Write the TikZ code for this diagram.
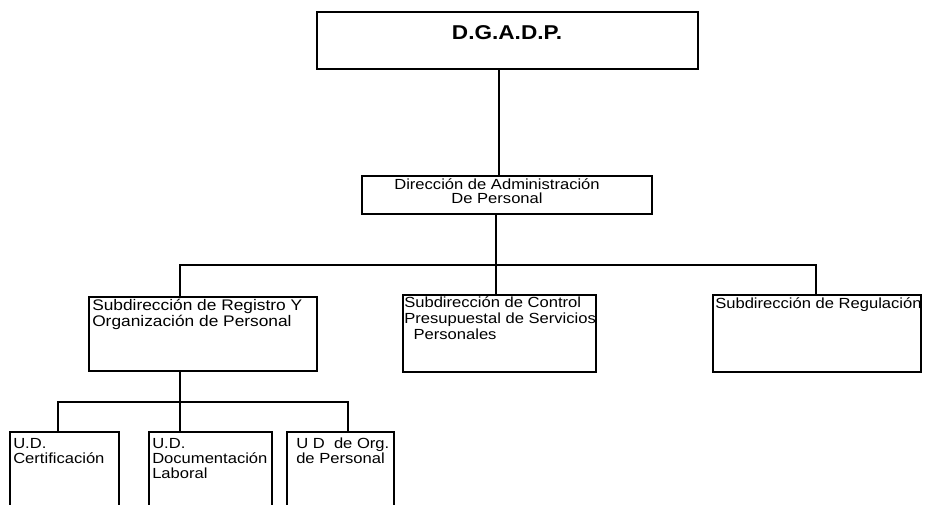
\documentclass[tikz,border=0pt]{standalone}
\usepackage{fontspec}
\setmainfont{Liberation Sans}[FakeStretch=1.13]
\usetikzlibrary{positioning}

\begin{document}
\begin{tikzpicture}[x=0.75pt, y=-0.75pt,
    box/.style={draw, line width=0.9pt, inner sep=0pt},
    lbl/.style={inner sep=0pt, anchor=north west, align=left, font=\fontsize{11}{12}\selectfont},
    link/.style={line width=0.9pt}]
            \useasboundingbox (0,0) rectangle (948,505);
            \clip (0,0) rectangle (948,505);
            % Top node
            \node[box, minimum width=285.75pt, minimum height=42.75pt] (dgadp) at (507.5,40.5) {};
            \node[inner sep=0pt, anchor=base, font=\fontsize{15}{17}\selectfont\bfseries] (dgadptxt) at (507,40) {D.G.A.D.P.};
            % Direction node
            \node[box, minimum width=217.5pt, minimum height=28.5pt] (dap) at (507,195) {};
            \node[lbl, anchor=north, align=center, font=\fontsize{11}{10.5}\selectfont] (daptxt) at (497,177) {\rule{0pt}{9pt}Dirección de Administración\\De Personal};
            % Subdirection nodes
            \node[box, minimum width=171pt, minimum height=55.5pt] (sreg) at (203,334) {};
            \node[lbl, font=\fontsize{11.5}{12.5}\selectfont] (sregtxt) at (92,298) {\rule{0pt}{9pt}Subdirección de Registro Y\\Organización de Personal};
            \node[box, minimum width=144.75pt, minimum height=57.75pt] (sctl) at (499.5,333.5) {};
            \node[lbl] (sctltxt) at (404,295) {\rule{0pt}{9pt}Subdirección de Control\\Presupuestal de Servicios\\\hspace*{7pt}Personales};
            \node[box, minimum width=156pt, minimum height=57.75pt] (sreg2) at (817,333.5) {};
            \node[lbl] (sreg2txt) at (715,296) {\rule{0pt}{9pt}Subdirección de Regulación};
            % U.D. nodes
            \node[box, minimum width=81.75pt, minimum height=73.5pt] (udcert) at (64.5,481) {};
            \node[lbl, font=\fontsize{11}{11.25}\selectfont] (udcerttxt) at (13,436) {\rule{0pt}{9pt}U.D.\\Certificación};
            \node[box, minimum width=92.25pt, minimum height=73.5pt] (uddoc) at (210.5,481) {};
            \node[lbl, font=\fontsize{11}{11.25}\selectfont] (uddoctxt) at (152,436) {\rule{0pt}{9pt}U.D.\\Documentación\\Laboral};
            \node[box, minimum width=80.25pt, minimum height=73.5pt] (udorg) at (340.5,481) {};
            \node[lbl, font=\fontsize{11}{11.25}\selectfont] (udorgtxt) at (296,436) {\rule{0pt}{9pt}U D~~de Org.\\de Personal};
            % Connectors
            \coordinate (stem0) at (499,0);
            \coordinate (stem1) at (496,265);
            \coordinate (busl) at (180,265);
            \coordinate (busr) at (816,265);
            \coordinate (stem2) at (180,402);
            \coordinate (bus2l) at (58,402);
            \coordinate (bus2r) at (348,402);
            \draw[link] (dgadp.south -| stem0) -- (dap.north -| stem0);
            \draw[link] (dap.south -| stem1) -- (sctl.north -| stem1);
            \draw[link] (sreg.north -| busl) -- (busl) -- (busr) -- (sreg2.north -| busr);
            \draw[link] (sreg.south -| stem2) -- (uddoc.north -| stem2);
            \draw[link] (udcert.north -| bus2l) -- (bus2l) -- (bus2r) -- (udorg.north -| bus2r);
        \end{tikzpicture}
\end{document}
